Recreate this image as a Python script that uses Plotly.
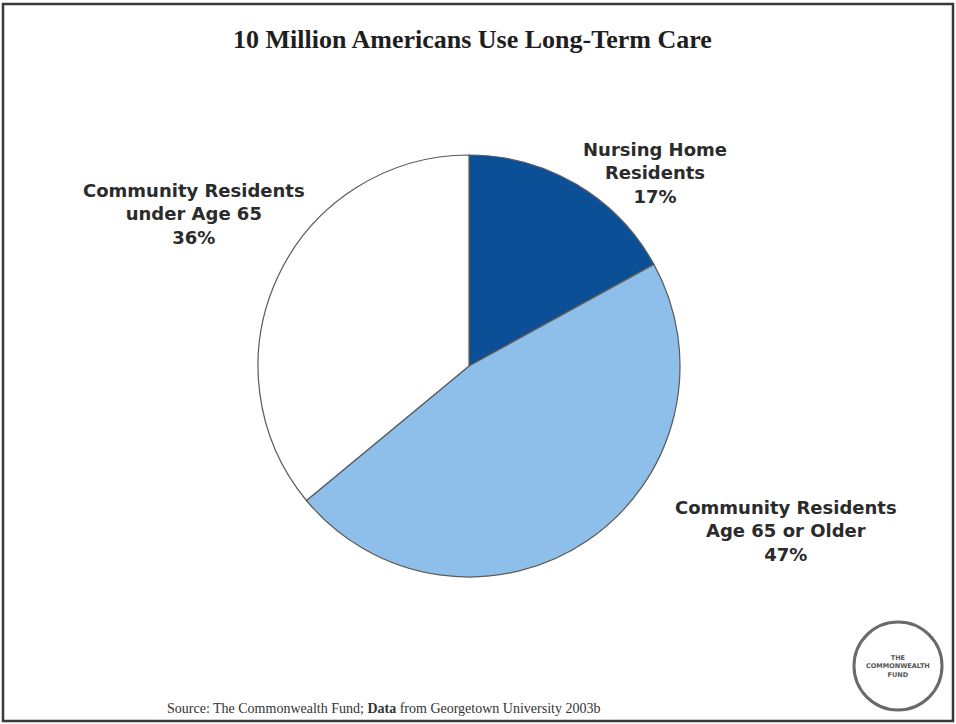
import plotly.graph_objects as go

# Long-term care users by setting (share of 10 million)
groups = ["Nursing Home Residents",
          "Community Residents Age 65 or Older",
          "Community Residents under Age 65"]
label_lines = [["Nursing Home", "Residents"],
               ["Community Residents", "Age 65 or Older"],
               ["Community Residents", "under Age 65"]]
shares = [17, 47, 36]
slice_colors = ["#0B4F96", "#8DBFEA", "#FFFFFF"]

W, H = 956, 724

def px(x):
    return x / W

def py(y):
    return 1 - y / H

# pie geometry (pixel space)
cx, cy, r = 469, 366, 211

fig = go.Figure(go.Pie(
    labels=groups,
    values=shares,
    sort=False,
    direction="clockwise",
    rotation=0,
    textinfo="none",
    hoverinfo="label+percent",
    marker=dict(colors=slice_colors, line=dict(color="#5a5a5a", width=1.2)),
    domain=dict(x=[px(cx - r), px(cx + r)], y=[py(cy + r), py(cy - r)]),
    showlegend=False,
))

# outside slice labels: name lines + percentage
label_pos = [(655, 173), (786, 531), (194, 214)]
annotations = []
for lines, val, (lx, ly) in zip(label_lines, shares, label_pos):
    annotations.append(dict(
        text="<br>".join(lines + [f"{val}%"]),
        x=px(lx), y=py(ly), xref="paper", yref="paper",
        xanchor="center", yanchor="middle", showarrow=False, align="center",
        font=dict(family="DejaVu Sans, Arial Black, sans-serif", size=18,
                  color="#2b2b2b", weight="bold"),
    ))

# title
annotations.append(dict(
    text="<b>10 Million Americans Use Long-Term Care</b>",
    x=px(472), y=py(40), xref="paper", yref="paper",
    xanchor="center", yanchor="middle", showarrow=False,
    font=dict(family="Liberation Serif, Times New Roman, serif", size=26, color="#1e1e1e"),
))

# source line
annotations.append(dict(
    text="Source: The Commonwealth Fund; <b>Data</b> from Georgetown University 2003b",
    x=px(165), y=py(708), xref="paper", yref="paper",
    xanchor="left", yanchor="middle", showarrow=False,
    font=dict(family="Liberation Serif, Times New Roman, serif", size=14, color="#333333"),
))

# logo text
annotations.append(dict(
    text="<b>THE<br>COMMONWEALTH<br>FUND</b>",
    x=px(898), y=py(666), xref="paper", yref="paper",
    xanchor="center", yanchor="middle", showarrow=False,
    font=dict(family="DejaVu Sans, Arial, sans-serif", size=6.5, color="#555555"),
))

shapes = [
    # slide border
    dict(type="rect", xref="paper", yref="paper",
         x0=px(3), x1=px(953), y0=py(721), y1=py(4),
         line=dict(color="#3a3a3a", width=2.5)),
    # logo ring
    dict(type="circle", xref="paper", yref="paper",
         x0=px(854), x1=px(942), y0=py(710), y1=py(622),
         line=dict(color="#6a6a6a", width=3)),
]

fig.update_layout(
    width=W, height=H,
    margin=dict(l=0, r=0, t=0, b=0),
    paper_bgcolor="white", plot_bgcolor="white",
    annotations=annotations, shapes=shapes,
)

fig.write_html("out.html")
